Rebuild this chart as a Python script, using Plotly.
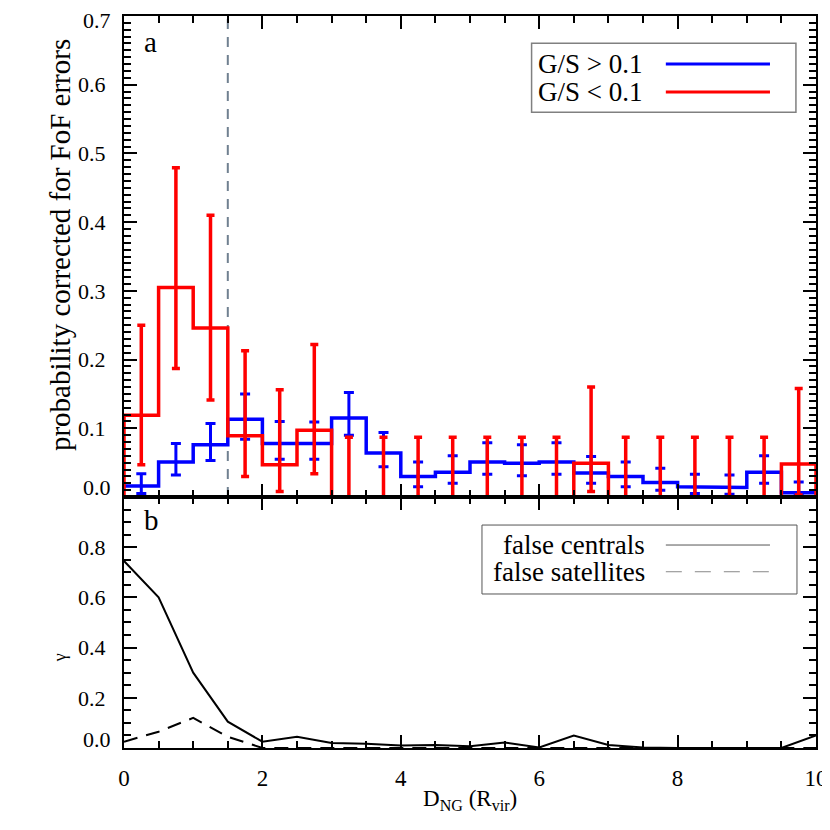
import plotly.graph_objects as go
from plotly.subplots import make_subplots

# panel a: bin centres (D_NG in R_vir), bin width 0.5
bin_centres = [0.25, 0.75, 1.25, 1.75, 2.25, 2.75, 3.25, 3.75, 4.25, 4.75,
               5.25, 5.75, 6.25, 6.75, 7.25, 7.75, 8.25, 8.75, 9.25, 9.75]
half_width = 0.25

# G/S > 0.1
blue_val = [0.016, 0.051, 0.076, 0.113, 0.078, 0.078, 0.115, 0.064, 0.030, 0.036,
            0.051, 0.049, 0.051, 0.035, 0.030, 0.021, 0.015, 0.014, 0.036, 0.006]
blue_up = [0.018, 0.027, 0.031, 0.037, 0.032, 0.031, 0.037, 0.030, 0.021, 0.024,
           0.028, 0.027, 0.028, 0.024, 0.021, 0.021, 0.018, 0.018, 0.024, 0.016]
blue_lo = [0.011, 0.019, 0.023, 0.029, 0.023, 0.023, 0.025, 0.020, 0.015, 0.016,
           0.018, 0.018, 0.018, 0.015, 0.015, 0.011, 0.010, 0.010, 0.016, 0.003]

# G/S < 0.1
red_val = [0.119, 0.305, 0.246, 0.089, 0.047, 0.097, 0.0, 0.0, 0.0, 0.0,
           0.0, 0.0, 0.0, 0.049, 0.0, 0.0, 0.0, 0.0, 0.0, 0.048]
red_up = [0.131, 0.174, 0.164, 0.124, 0.109, 0.125, 0.087, 0.087, 0.087, 0.087,
          0.087, 0.087, 0.087, 0.111, 0.087, 0.087, 0.087, 0.087, 0.087, 0.110]
red_lo = [0.072, 0.118, 0.105, 0.059, 0.039, 0.063, 0.0, 0.0, 0.0, 0.0,
          0.0, 0.0, 0.0, 0.041, 0.0, 0.0, 0.0, 0.0, 0.0, 0.045]

d_cut = 1.5

# panel b: gamma
gamma_x = [0, 0.5, 1, 1.5, 2, 2.5, 3, 3.5, 4, 4.5, 5,
           5.5, 6, 6.5, 7, 7.5, 8, 8.5, 9, 9.5, 10]
false_centrals = [0.745, 0.60, 0.30, 0.105, 0.025, 0.045, 0.02, 0.017, 0.01, 0.012, 0.007,
                  0.022, 0.002, 0.05, 0.012, 0.002, 0.0, 0.0, 0.0, 0.0, 0.05]
false_satellites = [0.025, 0.065, 0.12, 0.045, 0.0, 0.0, 0.0, 0.0, 0.0, 0.0, 0.0,
                    0.0, 0.0, 0.0, 0.0, 0.0, 0.0, 0.0, 0.0, 0.0, 0.0]

FONT = "'Liberation Serif', 'Times New Roman', Times, serif"
BLUE = "#0000ff"
RED = "#ff0000"


def step_path(centres, values, close_ends=False):
    xs, ys = [], []
    for c, v in zip(centres, values):
        xs += [c - half_width, c + half_width]
        ys += [v, v]
    if close_ends:
        xs = [xs[0]] + xs + [xs[-1]]
        ys = [0] + ys + [0]
    return xs, ys


fig = make_subplots(rows=2, cols=1, shared_xaxes=True, vertical_spacing=0)

bx, by = step_path(bin_centres, blue_val)
fig.add_trace(go.Scatter(x=bx, y=by, mode="lines", line=dict(color=BLUE, width=3.5),
                         showlegend=False), row=1, col=1)
fig.add_trace(go.Scatter(
    x=bin_centres, y=blue_val, mode="markers", marker=dict(size=0.1, color=BLUE, opacity=0),
    error_y=dict(type="data", symmetric=False, array=blue_up, arrayminus=blue_lo,
                 color=BLUE, thickness=3, width=5),
    showlegend=False), row=1, col=1)

rx, ry = step_path(bin_centres, red_val, close_ends=True)
fig.add_trace(go.Scatter(x=rx, y=ry, mode="lines", line=dict(color=RED, width=3.5),
                         showlegend=False), row=1, col=1)
fig.add_trace(go.Scatter(
    x=bin_centres, y=red_val, mode="markers", marker=dict(size=0.1, color=RED, opacity=0),
    error_y=dict(type="data", symmetric=False, array=red_up, arrayminus=red_lo,
                 color=RED, thickness=3.5, width=4),
    showlegend=False), row=1, col=1)

fig.add_trace(go.Scatter(x=gamma_x, y=false_centrals, mode="lines",
                         line=dict(color="black", width=2), showlegend=False), row=2, col=1)
fig.add_trace(go.Scatter(x=gamma_x, y=false_satellites, mode="lines",
                         line=dict(color="black", width=2, dash="14px,9px"),
                         showlegend=False), row=2, col=1)

fig.add_shape(type="line", x0=d_cut, x1=d_cut, y0=0, y1=1, xref="x", yref="y domain",
              line=dict(color="#708090", width=2, dash="10px,8px"), layer="below")

axis_style = dict(showline=True, linecolor="black", linewidth=2, mirror="allticks",
                  ticks="inside", ticklen=13, tickwidth=2, tickcolor="black",
                  showgrid=False, zeroline=False, automargin=False,
                  ticklabeloverflow="allow",
                  tickfont=dict(family=FONT, size=22, color="black"))

fig.update_xaxes(axis_style)
fig.update_yaxes(axis_style)
fig.update_xaxes(range=[0, 10], dtick=2, tick0=0,
                 minor=dict(ticks="inside", ticklen=7, tickwidth=1.5, tickcolor="black",
                            dtick=0.5, tick0=0, showgrid=False))
fig.update_xaxes(showticklabels=False, row=1, col=1)
fig.update_xaxes(showticklabels=True, ticklabelstandoff=8,
                 tickfont=dict(family=FONT, size=23, color="black"), row=2, col=1)

fig.update_yaxes(range=[0, 0.7], tickmode="array",
                 tickvals=[0, 0.1, 0.2, 0.3, 0.4, 0.5, 0.6, 0.7],
                 ticktext=[" ", "0.1", "0.2", "0.3", "0.4", "0.5", "0.6", " "],
                 ticklabelstandoff=12,
                 minor=dict(ticks="inside", ticklen=7, tickwidth=1.5, tickcolor="black",
                            dtick=0.01, tick0=0, showgrid=False),
                 domain=[0.3429, 1.0], row=1, col=1)
fig.update_yaxes(range=[0, 1.0], tickmode="array",
                 tickvals=[0, 0.2, 0.4, 0.6, 0.8, 1.0],
                 ticktext=[" ", "0.2", "0.4", "0.6", "0.8", " "],
                 ticklabelstandoff=12,
                 minor=dict(ticks="inside", ticklen=7, tickwidth=1.5, tickcolor="black",
                            dtick=0.05, tick0=0, showgrid=False),
                 domain=[0.0, 0.3429], row=2, col=1)

txt = dict(family=FONT, color="black")
ann = [
    # end labels nudged inwards as in the original
    dict(text="0.7", x=0, y=1.0, xref="paper", yref="y domain", xanchor="right",
         yanchor="middle", xshift=-11, yshift=-4, showarrow=False,
         font=dict(size=22, **txt)),
    dict(text="0.0", x=0, y=0.019, xref="paper", yref="y domain", xanchor="right",
         yanchor="middle", xshift=-11, showarrow=False, font=dict(size=22, **txt)),
    dict(text="0.0", x=0, y=0.032, xref="paper", yref="y2 domain", xanchor="right",
         yanchor="middle", xshift=-11, showarrow=False, font=dict(size=22, **txt)),
    # panel letters
    dict(text="a", x=0.026, y=0.9645, xref="paper", yref="paper", xanchor="left",
         yanchor="middle", showarrow=False, font=dict(size=29, **txt)),
    dict(text="b", x=0.026, y=0.3115, xref="paper", yref="paper", xanchor="left",
         yanchor="middle", showarrow=False, font=dict(size=29, **txt)),
    # axis titles
    dict(text="probability corrected for FoF errors", x=-0.0925, y=0.687,
         xref="paper", yref="paper", textangle=-90, showarrow=False,
         xanchor="center", yanchor="middle", font=dict(size=29, **txt)),
    dict(text="γ", x=-0.0925, y=0.124, xref="paper", yref="paper", textangle=-90,
         showarrow=False, xanchor="center", yanchor="middle", font=dict(size=18, **txt)),
    dict(text="D<sub>NG</sub> (R<sub>vir</sub>)", x=0.5, y=-0.071, xref="paper",
         yref="paper", showarrow=False, xanchor="center", yanchor="middle",
         font=dict(size=23, **txt)),
    # legend a
    dict(text="G/S > 0.1", x=0.7529, y=0.9344, xref="paper", yref="paper",
         xanchor="right", yanchor="middle", showarrow=False, font=dict(size=27, **txt)),
    dict(text="G/S < 0.1", x=0.7529, y=0.8962, xref="paper", yref="paper",
         xanchor="right", yanchor="middle", showarrow=False, font=dict(size=27, **txt)),
    # legend b
    dict(text="false centrals", x=0.7558, y=0.2773, xref="paper", yref="paper",
         xanchor="right", yanchor="middle", showarrow=False, font=dict(size=27, **txt)),
    dict(text="false satellites", x=0.7558, y=0.2408, xref="paper", yref="paper",
         xanchor="right", yanchor="middle", showarrow=False, font=dict(size=27, **txt)),
]

shapes = [
    dict(type="rect", x0=0.589, x1=0.971, y0=0.8684, y1=0.9627, xref="paper", yref="paper",
         line=dict(color="#808080", width=1.5), fillcolor="rgba(0,0,0,0)"),
    dict(type="line", x0=0.783, x1=0.9335, y0=0.9344, y1=0.9344, xref="paper", yref="paper",
         line=dict(color=BLUE, width=3)),
    dict(type="line", x0=0.783, x1=0.9335, y0=0.8962, y1=0.8962, xref="paper", yref="paper",
         line=dict(color=RED, width=3)),
    dict(type="rect", x0=0.5173, x1=0.9725, y0=0.2104, y1=0.3046, xref="paper", yref="paper",
         line=dict(color="#555555", width=1), fillcolor="rgba(0,0,0,0)"),
    dict(type="line", x0=0.783, x1=0.9335, y0=0.2773, y1=0.2773, xref="paper", yref="paper",
         line=dict(color="#555555", width=1)),
    dict(type="line", x0=0.783, x1=0.9335, y0=0.2408, y1=0.2408, xref="paper", yref="paper",
         line=dict(color="#888888", width=1, dash="16px,13px")),
]
for s in shapes:
    fig.add_shape(**s)

# the page body adds an 8px offset, so the figure is sized to fit the window
fig.update_layout(width=822, height=822, margin=dict(l=116, r=14, t=8, b=82),
                  plot_bgcolor="white", paper_bgcolor="white", annotations=ann,
                  font=dict(family=FONT, color="black"), showlegend=False)

fig.write_html("out.html")
